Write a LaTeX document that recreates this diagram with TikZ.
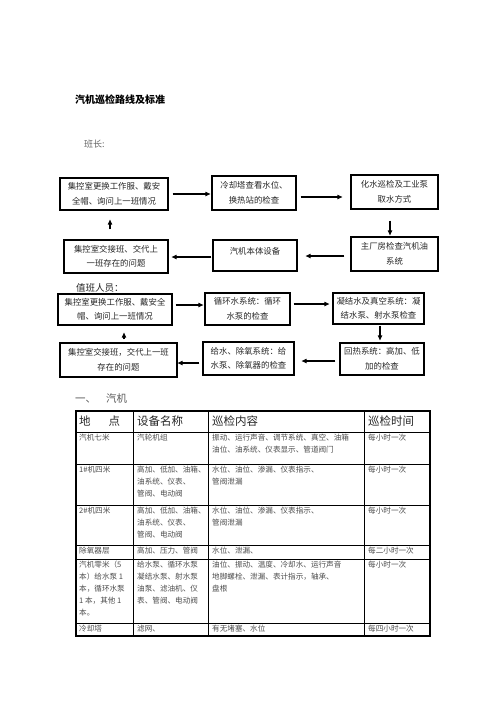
\documentclass[tikz,border=0pt]{standalone}
\usepackage{fontspec}
\setmainfont{Noto Sans CJK SC}
\usepackage{xcolor}
\usepackage{tikz}
\usetikzlibrary{arrows.meta,positioning}

\begin{document}
\begin{tikzpicture}[x=1pt, y=-1pt,
  box/.style={draw, line width=1.1pt, align=center, inner sep=0pt, font=\fontsize{8.4}{14.5}\selectfont, text=black!85},
  arrow/.style={-{Triangle[length=5pt,width=4.2pt]}, line width=1.1pt},
  cell/.style={anchor=north west, inner sep=0pt, align=left, font=\fontsize{7.6}{12}\selectfont, text=black!70},
  head/.style={anchor=west, inner sep=0pt, font=\fontsize{11.5}{13}\selectfont, text=black!85},
  label/.style={anchor=west, inner sep=0pt}
]
\useasboundingbox (0,0) rectangle (496,702);

% Titel
\node[label, font=\fontsize{10}{12}\selectfont\bfseries] (title) at (75,100) {汽机巡检路线及标准};
\node[label, font=\fontsize{9}{11}\selectfont, text=black!60] (leader) at (84,144) {班长:};

% Ablauf Schichtleiter
\node[box, minimum width=108pt, minimum height=32pt] (lA) at (114,194) {集控室更换工作服、戴安\\全帽、询问上一班情况};
\node[box, minimum width=84pt, minimum height=34pt] (lB) at (254,193) {冷却塔查看水位、\\换热站的检查};
\node[box, minimum width=87pt, minimum height=34pt] (lC) at (394.5,192) {化水巡检及工业泵\\取水方式};
\node[box, minimum width=87pt, minimum height=34pt] (lD) at (394.5,254) {主厂房检查汽机油\\系统};
\node[box, minimum width=84pt, minimum height=31pt, text depth=10pt] (lE) at (255,255.5) {汽机本体设备};
\node[box, minimum width=104pt, minimum height=33pt] (lF) at (116,256.5) {集控室交接班、交代上\\一班存在的问题};

\draw[arrow, shorten <=4pt, shorten >=1pt] (lA.east) -- (lA.east -| lB.west);
\draw[arrow, shorten <=4pt, shorten >=8pt] ([yshift=-4pt]lB.east) -- ([yshift=-4pt]lB.east -| lC.west);
\draw[arrow, shorten <=11pt, shorten >=1pt] ([xshift=-4.5pt]lC.south) -- ([xshift=-4.5pt]lC.south |- lD.north);
\draw[arrow, shorten <=6pt, shorten >=8pt] ([yshift=-2pt]lD.west) -- ([yshift=-2pt]lD.west -| lE.east);
\draw[arrow, shorten <=1pt, shorten >=3pt] ([yshift=-1.5pt]lE.west) -- ([yshift=-1.5pt]lE.west -| lF.east);
\draw[arrow, shorten <=10pt, shorten >=9pt] ([xshift=-6pt]lF.north) -- ([xshift=-6pt]lF.north |- lA.south);

% Ablauf Schichtpersonal
\node[label, font=\fontsize{9.5}{11}\selectfont, text=black!85] (staff) at (76,288) {值班人员：};
\node[box, minimum width=114pt, minimum height=31pt] (sA) at (115,309.5) {集控室更换工作服、戴安全\\帽、询问上一班情况};
\node[box, minimum width=85pt, minimum height=32pt] (sB) at (247.5,309) {循环水系统：循环\\水泵的检查};
\node[box, minimum width=91pt, minimum height=31pt] (sC) at (378.5,308.5) {凝结水及真空系统：凝\\结水泵、射水泵检查};
\node[box, minimum width=84pt, minimum height=32pt] (sD) at (382,359) {回热系统：高加、低\\加的检查};
\node[box, minimum width=91pt, minimum height=33pt] (sE) at (248.5,358.5) {给水、除氧系统：给\\水泵、除氧器的检查};
\node[box, minimum width=117pt, minimum height=34pt] (sF) at (118.5,360) {集控室交接班，交代上一班\\存在的问题};

\draw[arrow, shorten <=3pt, shorten >=1pt] ([yshift=4.5pt]sA.east) -- ([yshift=4.5pt]sA.east -| sB.west);
\draw[arrow, shorten <=3pt, shorten >=3pt] ([yshift=5pt]sB.east) -- ([yshift=5pt]sB.east -| sC.west);
\draw[arrow, shorten <=1pt, shorten >=2pt] ([xshift=1.5pt]sC.south) -- ([xshift=1.5pt]sC.south |- sD.north);
\draw[arrow, shorten <=4pt, shorten >=7pt] ([yshift=-2pt]sD.west) -- ([yshift=-2pt]sD.west -| sE.east);
\draw[arrow, shorten <=3pt, shorten >=0pt] ([yshift=-4.5pt]sE.west) -- ([yshift=-4.5pt]sE.west -| sF.east);
\draw[arrow, shorten <=3pt, shorten >=7pt] ([xshift=5.5pt]sF.north) -- ([xshift=5.5pt]sF.north |- sA.south);

% Tabelle
\node[label, font=\fontsize{10.5}{12}\selectfont, text=black!65] (sect) at (75,399) {一、\hspace{10pt}汽机};

\draw[line width=0.8pt] (76,432) -- (430,432)  (76,464) -- (430,464)  (76,505) -- (430,505)
  (76,545) -- (430,545)  (76,559) -- (430,559)  (76,623) -- (430,623);
\draw[line width=0.8pt] (133,411) -- (133,636)  (208,411) -- (208,636)  (364,411) -- (364,636);
\draw[line width=1.2pt] (76,411) rectangle (430,636);

\node[head] (h1) at (79,421) {地\hspace{18pt}点};
\node[head] (h2) at (137,421) {设备名称};
\node[head] (h3) at (212,421) {巡检内容};
\node[head] (h4) at (368,421) {巡检时间};

\node[cell] (r1a) at (79,434) {汽机七米};
\node[cell] (r1b) at (137,434) {汽轮机组};
\node[cell] (r1c) at (212,434) {振动、运行声音、调节系统、真空、油箱\\油位、油系统、仪表显示、管道阀门};
\node[cell] (r1d) at (368,434) {每小时一次};

\node[cell] (r2a) at (79,466) {1\#机四米};
\node[cell] (r2b) at (137,466) {高加、低加、油箱、\\油系统、仪表、\\管阀、电动阀};
\node[cell] (r2c) at (212,466) {水位、油位、渗漏、仪表指示、\\管阀泄漏};
\node[cell] (r2d) at (368,466) {每小时一次};

\node[cell] (r3a) at (79,507) {2\#机四米};
\node[cell] (r3b) at (137,507) {高加、低加、油箱、\\油系统、仪表、\\管阀、电动阀};
\node[cell] (r3c) at (212,507) {水位、油位、渗漏、仪表指示、\\管阀泄漏};
\node[cell] (r3d) at (368,507) {每小时一次};

\node[cell] (r4a) at (79,547) {除氧器层};
\node[cell] (r4b) at (137,547) {高加、压力、管阀};
\node[cell] (r4c) at (212,547) {水位、泄漏、};
\node[cell] (r4d) at (368,547) {每二小时一次};

\node[cell] (r5a) at (79,561) {汽机零米（5\\本）给水泵 1\\本，循环水泵\\1 本，其他 1\\本。};
\node[cell] (r5b) at (137,561) {给水泵、循环水泵\\凝结水泵、射水泵\\油泵、滤油机、仪\\表、管阀、电动阀};
\node[cell] (r5c) at (212,561) {油位、振动、温度、冷却水、运行声音\\地脚螺栓、泄漏、表计指示，轴承、\\盘根};
\node[cell] (r5d) at (368,561) {每小时一次};

\node[cell] (r6a) at (79,624.5) {冷却塔};
\node[cell] (r6b) at (137,624.5) {滤网、};
\node[cell] (r6c) at (212,624.5) {有无堵塞、水位};
\node[cell] (r6d) at (368,624.5) {每四小时一次};
\end{tikzpicture}
\end{document}
